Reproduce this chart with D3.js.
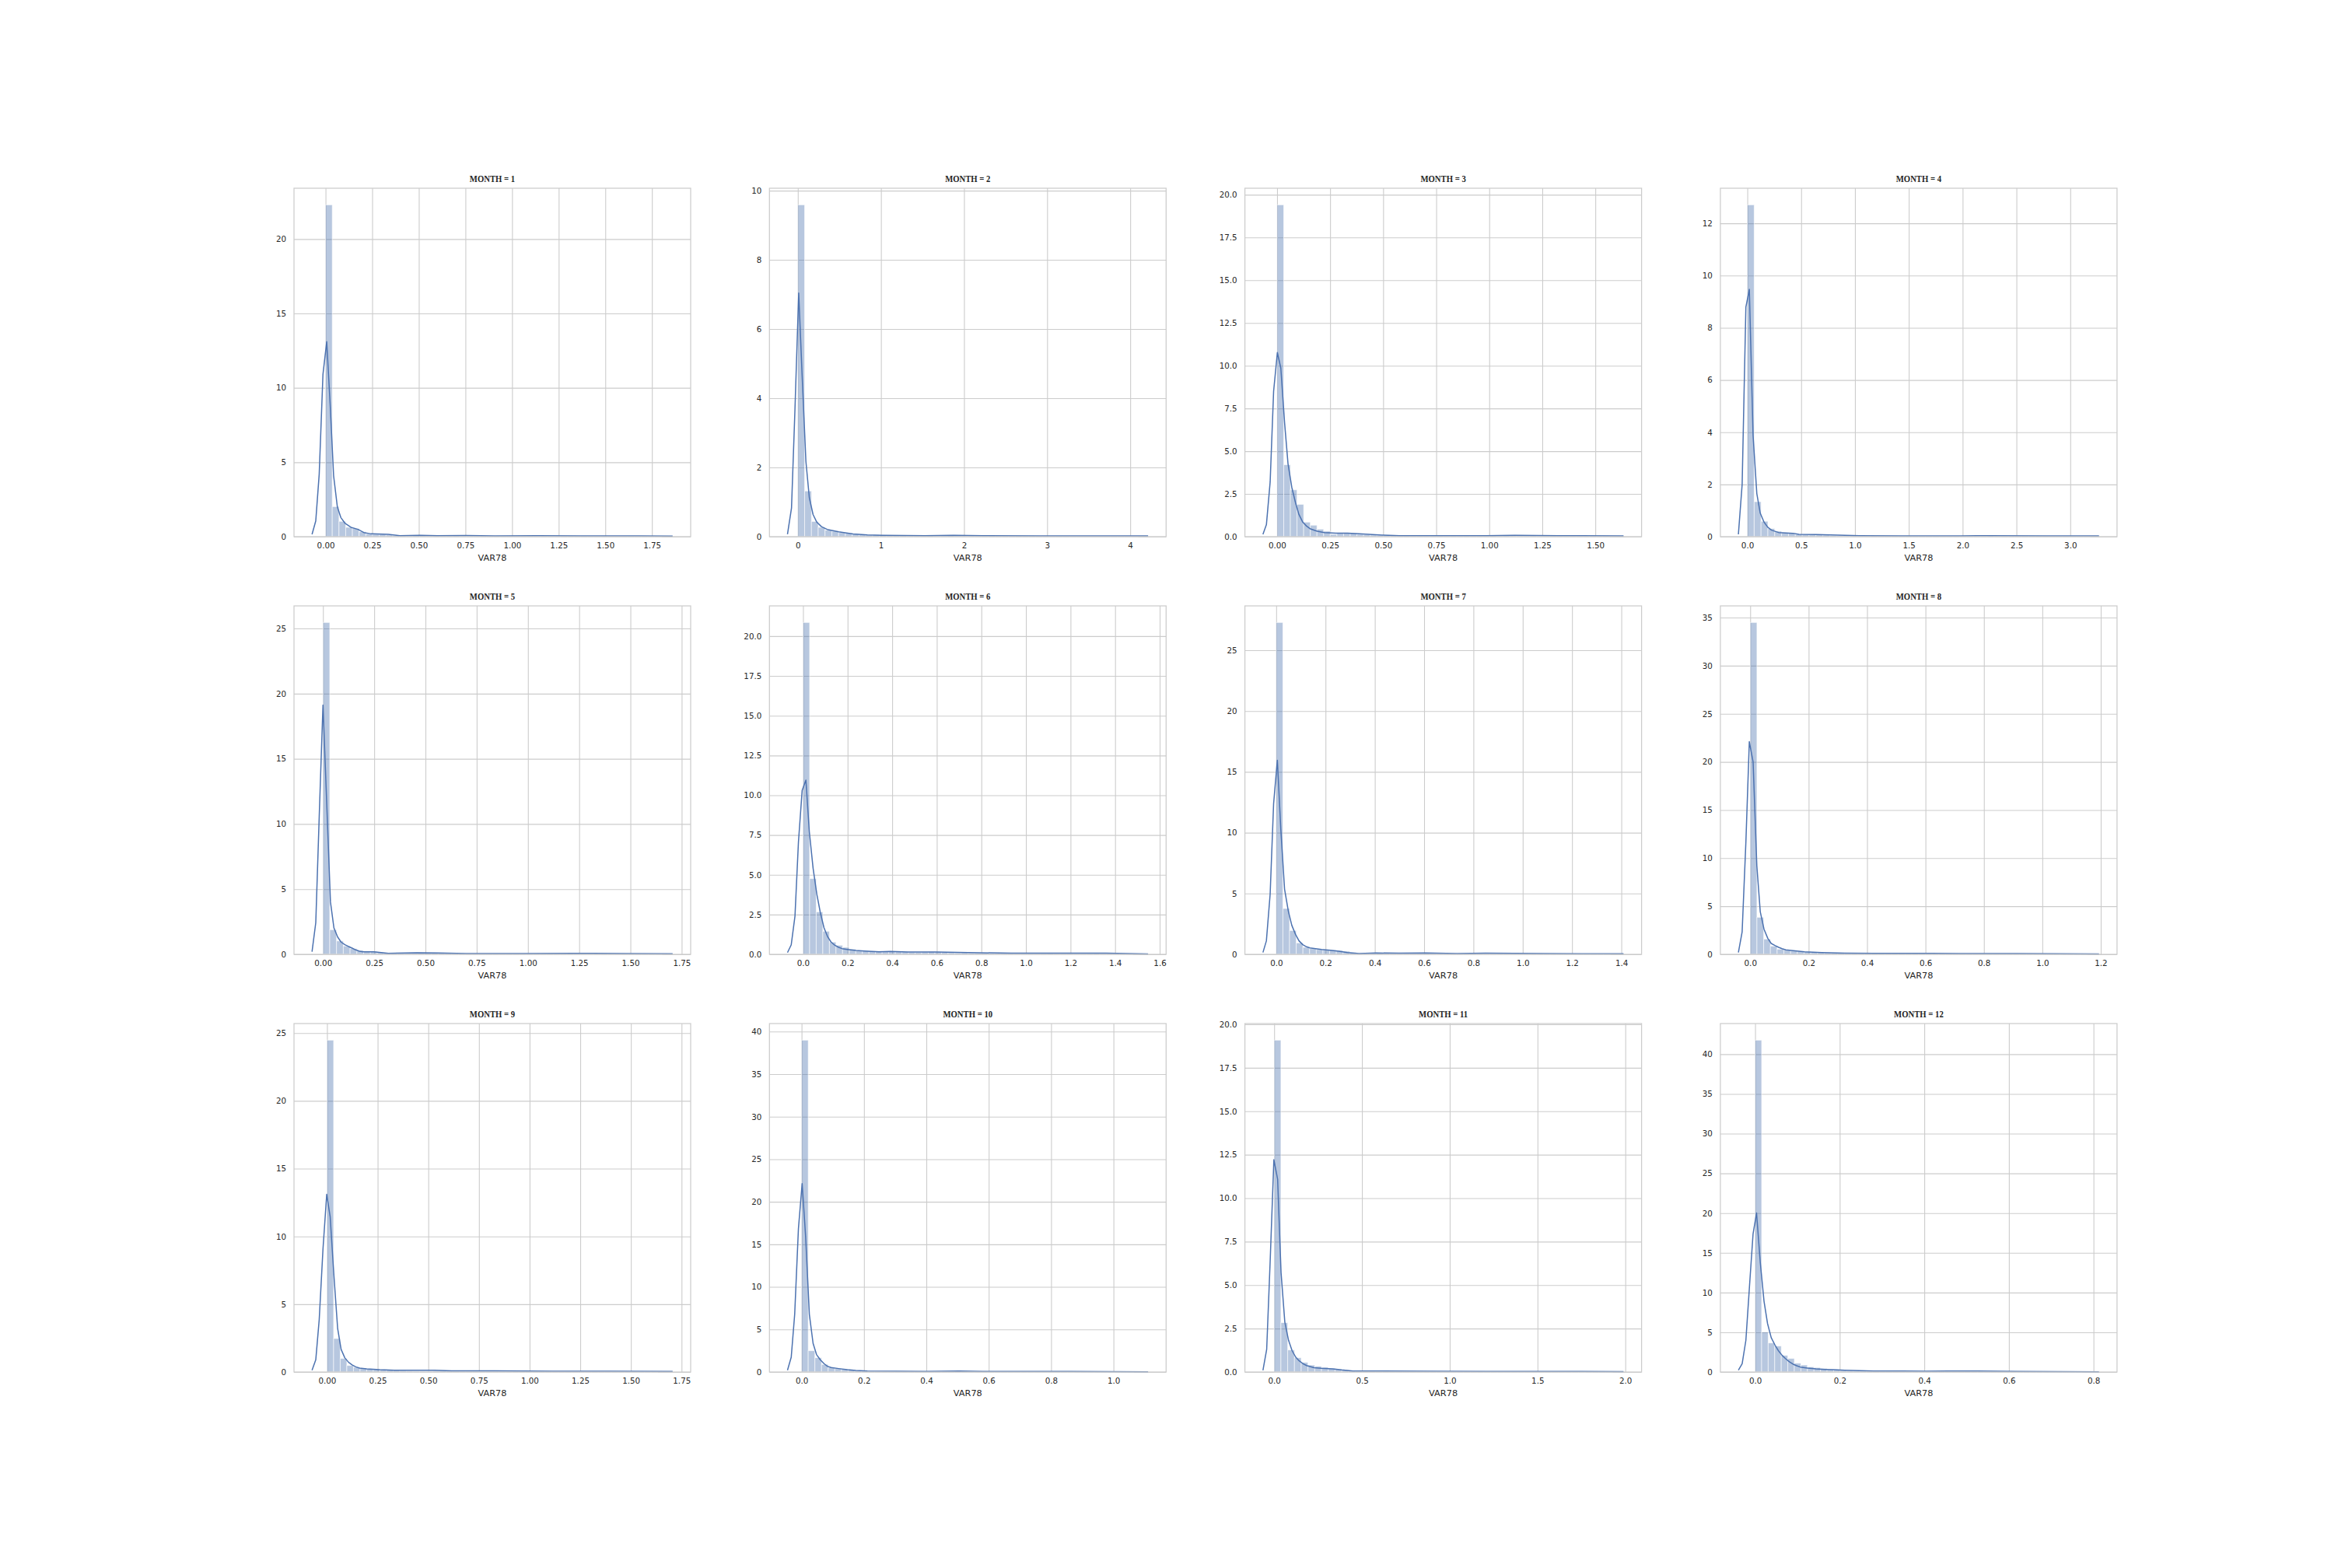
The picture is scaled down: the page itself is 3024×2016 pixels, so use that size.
<!DOCTYPE html>
<html><head><meta charset="utf-8">
<script src="https://cdn.jsdelivr.net/npm/d3@7"></script>
<style>
html,body{margin:0;padding:0;background:#fff;}
svg{display:block;}
</style></head><body>
<svg id="chart" width="3024" height="2016"></svg>
<script>
// ---------------- DATA ----------------
const months = [1,2,3,4,5,6,7,8,9,10,11,12];
const variableName = "VAR78";
const dataMin = [0,0,0,0,0,0,0,0,0,0,0,0];
const dataMax = [1.80, 4.09, 1.567, 3.184, 1.653, 1.479, 1.355, 1.153, 1.632, 1.065, 1.926, 0.773];

// density-normalised histogram heights, 50 bins between dataMin and dataMax
const histDensity = [
 [22.3,2.02,1.03,0.63,0.55,0.33,0.19,0.16,0.16,0.12,0.08,0.06,0.05,0.07,0.06,0.05,0.06,0.04,0.05,0.07,0.05,0.04,0.03,0.04,0.03,0.05,0.03,0.02,0.03,0.03,0.05,0.04,0.03,0.02,0.03,0.03,0.04,0.02,0.03,0.02,0.02,0.03,0.02,0.02,0.02,0.03,0.02,0.01,0.02,0.03],
 [9.59,1.32,0.44,0.27,0.19,0.16,0.12,0.10,0.075,0.06,0.05,0.05,0.04,0.03,0.03,0.03,0.02,0.02,0.02,0.03,0.02,0.02,0.03,0.02,0.01,0.02,0.01,0.01,0.02,0.01,0.01,0.01,0.02,0.01,0.01,0.01,0.01,0.01,0.02,0.01,0.01,0.01,0.01,0.01,0.01,0.01,0.01,0.01,0.01,0.01],
 [19.41,4.21,2.74,1.89,0.85,0.67,0.44,0.32,0.14,0.20,0.23,0.21,0.14,0.12,0.10,0.08,0.08,0.06,0.05,0.06,0.04,0.05,0.04,0.05,0.06,0.04,0.05,0.04,0.05,0.04,0.05,0.05,0.06,0.04,0.06,0.05,0.04,0.04,0.05,0.03,0.04,0.05,0.04,0.03,0.04,0.04,0.03,0.04,0.03,0.04],
 [12.71,1.34,0.59,0.31,0.21,0.15,0.13,0.09,0.08,0.07,0.07,0.06,0.04,0.03,0.03,0.03,0.02,0.02,0.03,0.02,0.02,0.02,0.02,0.03,0.02,0.02,0.02,0.02,0.02,0.02,0.02,0.02,0.02,0.03,0.02,0.04,0.02,0.02,0.02,0.02,0.02,0.02,0.02,0.02,0.02,0.02,0.02,0.02,0.02,0.02],
 [25.46,1.89,1.03,0.64,0.44,0.30,0.24,0.20,0.15,0.12,0.10,0.08,0.07,0.06,0.08,0.09,0.10,0.08,0.07,0.06,0.05,0.05,0.04,0.05,0.04,0.04,0.03,0.04,0.04,0.05,0.06,0.04,0.05,0.06,0.05,0.04,0.06,0.05,0.04,0.04,0.06,0.05,0.04,0.05,0.04,0.04,0.03,0.04,0.04,0.04],
 [20.86,4.76,2.67,1.45,0.77,0.57,0.44,0.33,0.24,0.23,0.21,0.20,0.18,0.17,0.19,0.16,0.13,0.12,0.14,0.16,0.15,0.12,0.10,0.09,0.10,0.08,0.08,0.07,0.06,0.05,0.05,0.05,0.04,0.04,0.05,0.04,0.05,0.06,0.04,0.04,0.05,0.04,0.04,0.05,0.06,0.04,0.05,0.04,0.04,0.04],
 [27.28,3.77,1.96,0.94,0.58,0.47,0.40,0.36,0.36,0.32,0.26,0.15,0.08,0.05,0.06,0.08,0.09,0.06,0.05,0.05,0.06,0.07,0.08,0.06,0.05,0.04,0.05,0.05,0.06,0.07,0.06,0.05,0.04,0.05,0.04,0.05,0.04,0.04,0.05,0.06,0.04,0.04,0.05,0.04,0.04,0.04,0.03,0.04,0.04,0.04],
 [34.49,3.85,1.59,0.86,0.54,0.46,0.38,0.32,0.27,0.22,0.19,0.16,0.14,0.12,0.10,0.10,0.09,0.10,0.12,0.10,0.09,0.10,0.11,0.10,0.12,0.10,0.09,0.08,0.07,0.08,0.07,0.08,0.06,0.07,0.08,0.07,0.06,0.07,0.06,0.06,0.07,0.06,0.05,0.06,0.05,0.06,0.05,0.05,0.05,0.05],
 [24.48,2.47,1.00,0.48,0.35,0.27,0.23,0.19,0.17,0.15,0.12,0.10,0.08,0.07,0.06,0.06,0.08,0.09,0.06,0.05,0.04,0.04,0.05,0.04,0.05,0.04,0.04,0.03,0.04,0.03,0.04,0.03,0.03,0.04,0.03,0.03,0.04,0.03,0.03,0.03,0.04,0.03,0.03,0.03,0.03,0.02,0.03,0.03,0.02,0.03],
 [38.99,2.50,1.68,0.89,0.52,0.43,0.31,0.24,0.15,0.12,0.10,0.08,0.07,0.06,0.05,0.05,0.04,0.05,0.04,0.06,0.04,0.05,0.04,0.10,0.09,0.06,0.05,0.04,0.04,0.05,0.04,0.04,0.05,0.04,0.04,0.04,0.05,0.04,0.04,0.04,0.04,0.03,0.04,0.04,0.03,0.04,0.04,0.03,0.04,0.04],
 [19.09,2.84,1.27,0.82,0.55,0.40,0.33,0.27,0.21,0.15,0.12,0.08,0.05,0.04,0.04,0.03,0.04,0.03,0.03,0.02,0.03,0.02,0.02,0.03,0.02,0.02,0.02,0.02,0.03,0.02,0.02,0.02,0.02,0.02,0.02,0.02,0.02,0.02,0.02,0.02,0.01,0.02,0.02,0.02,0.01,0.02,0.02,0.01,0.02,0.02],
 [41.77,5.04,3.66,3.27,2.09,1.70,1.11,0.88,0.65,0.56,0.46,0.29,0.26,0.20,0.16,0.12,0.12,0.10,0.09,0.08,0.10,0.08,0.07,0.05,0.06,0.07,0.08,0.10,0.12,0.10,0.08,0.10,0.12,0.09,0.08,0.07,0.08,0.06,0.05,0.06,0.05,0.06,0.05,0.04,0.05,0.04,0.05,0.04,0.04,0.04]
];

// KDE curves: [x, density]
const kdeCurves = [
 [[-0.0725,0.16],[-0.0525,1.06],[-0.034,4.2],[-0.0139,10.9],[0.0062,13.1],[0.0247,8.9],[0.0432,4.1],[0.0633,2.0],[0.0818,1.29],[0.105,0.89],[0.136,0.63],[0.174,0.49],[0.205,0.28],[0.244,0.19],[0.336,0.16],[0.398,0.07],[0.506,0.09],[0.6,0.07],[0.753,0.08],[0.907,0.05],[1.139,0.07],[1.37,0.05],[1.68,0.05],[1.861,0.04]],
 [[-0.1246,0.07],[-0.0761,0.83],[-0.0346,3.68],[0.0104,7.04],[0.0519,4.65],[0.0969,2.18],[0.138,1.13],[0.183,0.64],[0.228,0.42],[0.284,0.29],[0.353,0.21],[0.491,0.14],[0.664,0.08],[0.837,0.05],[1.01,0.04],[1.529,0.03],[1.875,0.04],[2.221,0.03],[2.913,0.02],[3.606,0.02],[4.215,0.02]],
 [[-0.0666,0.14],[-0.0503,0.7],[-0.0326,3.2],[-0.0163,8.5],[0.0014,10.77],[0.0177,9.86],[0.0353,6.68],[0.0516,4.26],[0.0693,2.89],[0.087,1.98],[0.103,1.3],[0.121,0.85],[0.139,0.62],[0.155,0.47],[0.173,0.39],[0.189,0.32],[0.223,0.24],[0.277,0.2],[0.332,0.21],[0.386,0.17],[0.495,0.09],[0.576,0.06],[0.78,0.06],[0.984,0.06],[1.12,0.08],[1.323,0.06],[1.633,0.05]],
 [[-0.0829,0.09],[-0.0481,2.0],[-0.0134,8.79],[0.0187,9.47],[0.0535,3.88],[0.0882,1.65],[0.12,0.9],[0.155,0.56],[0.19,0.36],[0.225,0.25],[0.291,0.16],[0.425,0.13],[0.479,0.09],[0.639,0.08],[0.773,0.07],[1.04,0.04],[1.441,0.03],[1.976,0.03],[2.243,0.04],[2.778,0.03],[3.267,0.03]],
 [[-0.0534,0.2],[-0.0351,2.43],[-0.0183,10.58],[0.0,19.13],[0.0183,11.57],[0.0365,4.02],[0.0534,2.03],[0.0716,1.33],[0.0885,0.94],[0.107,0.74],[0.125,0.6],[0.142,0.48],[0.16,0.34],[0.178,0.24],[0.195,0.2],[0.249,0.2],[0.319,0.08],[0.459,0.12],[0.558,0.1],[0.698,0.06],[0.979,0.06],[1.232,0.08],[1.47,0.06],[1.706,0.04]],
 [[-0.0697,0.11],[-0.0529,0.6],[-0.0361,2.4],[-0.0206,7.04],[-0.0039,10.3],[0.0129,10.95],[0.0284,7.69],[0.0452,5.41],[0.0619,3.78],[0.0774,2.64],[0.0942,1.66],[0.111,1.09],[0.126,0.77],[0.143,0.57],[0.16,0.44],[0.175,0.36],[0.199,0.31],[0.237,0.24],[0.289,0.2],[0.341,0.16],[0.392,0.18],[0.47,0.15],[0.599,0.15],[0.741,0.11],[0.934,0.07],[1.128,0.07],[1.36,0.07],[1.548,0.03]],
 [[-0.0538,0.15],[-0.0398,1.11],[-0.0246,4.94],[-0.0105,12.4],[0.0047,15.96],[0.0187,10.27],[0.0339,5.37],[0.0491,3.56],[0.0632,2.39],[0.0784,1.64],[0.0924,1.11],[0.108,0.79],[0.123,0.62],[0.137,0.53],[0.16,0.47],[0.184,0.4],[0.219,0.34],[0.254,0.26],[0.289,0.15],[0.336,0.06],[0.406,0.11],[0.499,0.09],[0.605,0.11],[0.733,0.06],[0.85,0.09],[1.084,0.06],[1.409,0.04]],
 [[-0.0404,0.19],[-0.0276,2.34],[-0.0148,11.64],[-0.003,22.1],[0.0099,20.0],[0.0227,9.22],[0.0345,4.42],[0.0473,2.61],[0.0601,1.67],[0.0719,1.13],[0.0847,0.92],[0.0975,0.73],[0.109,0.59],[0.122,0.46],[0.147,0.38],[0.186,0.27],[0.245,0.19],[0.324,0.13],[0.423,0.11],[0.521,0.11],[0.62,0.11],[0.718,0.08],[0.915,0.08],[1.194,0.05]],
 [[-0.0739,0.13],[-0.0554,0.9],[-0.0384,3.87],[-0.0199,9.05],[-0.0014,13.11],[0.0156,11.45],[0.0341,7.13],[0.0526,3.2],[0.0696,1.67],[0.0881,1.04],[0.107,0.71],[0.124,0.52],[0.142,0.38],[0.161,0.29],[0.196,0.23],[0.26,0.17],[0.331,0.13],[0.53,0.13],[0.615,0.08],[0.828,0.08],[1.112,0.06],[1.396,0.06],[1.706,0.04]],
 [[-0.0452,0.21],[-0.0332,1.74],[-0.0221,6.78],[-0.0101,16.85],[0.0018,22.14],[0.0129,15.94],[0.0249,6.78],[0.0369,3.36],[0.0479,2.05],[0.0599,1.44],[0.0719,0.98],[0.0829,0.67],[0.0949,0.52],[0.119,0.4],[0.147,0.27],[0.174,0.18],[0.211,0.12],[0.303,0.09],[0.395,0.06],[0.506,0.12],[0.58,0.06],[0.672,0.06],[0.856,0.06],[1.111,0.03]],
 [[-0.0639,0.1],[-0.0426,1.3],[-0.023,6.31],[-0.0016,12.21],[0.0197,11.09],[0.0393,5.71],[0.0607,2.87],[0.082,1.82],[0.102,1.23],[0.123,0.85],[0.144,0.63],[0.164,0.48],[0.185,0.37],[0.228,0.25],[0.269,0.21],[0.334,0.18],[0.384,0.12],[0.449,0.06],[0.548,0.06],[0.875,0.04],[1.203,0.03],[1.695,0.03],[1.99,0.02]],
 [[-0.0395,0.23],[-0.0306,1.05],[-0.0218,3.99],[-0.0136,10.53],[-0.0048,17.4],[0.0034,20.02],[0.0122,13.8],[0.0211,8.9],[0.0293,6.12],[0.0381,4.32],[0.0469,3.4],[0.0551,2.68],[0.0639,2.09],[0.0728,1.64],[0.081,1.28],[0.0898,0.98],[0.0986,0.78],[0.107,0.62],[0.124,0.49],[0.144,0.39],[0.165,0.33],[0.185,0.29],[0.212,0.23],[0.28,0.13],[0.348,0.13],[0.403,0.1],[0.457,0.13],[0.525,0.13],[0.62,0.07],[0.813,0.03]]
];

// tick labels
const xTickLabels = [
 ["0.00","0.25","0.50","0.75","1.00","1.25","1.50","1.75"],
 ["0","1","2","3","4"],
 ["0.00","0.25","0.50","0.75","1.00","1.25","1.50"],
 ["0.0","0.5","1.0","1.5","2.0","2.5","3.0"],
 ["0.00","0.25","0.50","0.75","1.00","1.25","1.50","1.75"],
 ["0.0","0.2","0.4","0.6","0.8","1.0","1.2","1.4","1.6"],
 ["0.0","0.2","0.4","0.6","0.8","1.0","1.2","1.4"],
 ["0.0","0.2","0.4","0.6","0.8","1.0","1.2"],
 ["0.00","0.25","0.50","0.75","1.00","1.25","1.50","1.75"],
 ["0.0","0.2","0.4","0.6","0.8","1.0"],
 ["0.0","0.5","1.0","1.5","2.0"],
 ["0.0","0.2","0.4","0.6","0.8"]
];
const yTickLabels = [
 ["0","5","10","15","20"],
 ["0","2","4","6","8","10"],
 ["0.0","2.5","5.0","7.5","10.0","12.5","15.0","17.5","20.0"],
 ["0","2","4","6","8","10","12"],
 ["0","5","10","15","20","25"],
 ["0.0","2.5","5.0","7.5","10.0","12.5","15.0","17.5","20.0"],
 ["0","5","10","15","20","25"],
 ["0","5","10","15","20","25","30","35"],
 ["0","5","10","15","20","25"],
 ["0","5","10","15","20","25","30","35","40"],
 ["0.0","2.5","5.0","7.5","10.0","12.5","15.0","17.5","20.0"],
 ["0","5","10","15","20","25","30","35","40"]
];

// ---------------- DRAWING ----------------
const svg = d3.select("#chart");
svg.append("rect").attr("width",3024).attr("height",2016).attr("fill","#fff");

const axW = 510, axH = 448;
const col0 = 378, colStep = 611.3, row0 = 242, rowStep = 537;
const blue = "#4c72b0", gridCol = "#cccccc", textCol = "#262626";

months.forEach((m, i) => {
  const col = i % 4, row = Math.floor(i / 4);
  const left = col0 + col * colStep, top = row0 + row * rowStep;
  const kde = kdeCurves[i];
  const hist = histDensity[i];
  const kx0 = kde[0][0], kx1 = kde[kde.length - 1][0];
  const lo = Math.min(kx0, dataMin[i]), hi = Math.max(kx1, dataMax[i]);
  const pad = (hi - lo) * 0.05;
  const x = d3.scaleLinear().domain([lo - pad, hi + pad]).range([left, left + axW]);
  const ymax = Math.max(d3.max(hist), d3.max(kde, d => d[1])) * 1.05;
  const y = d3.scaleLinear().domain([0, ymax]).range([top + axH, top]);

  const xt = xTickLabels[i], yt = yTickLabels[i];
  const g = svg.append("g");

  // grid lines
  const gx = g.append("g").attr("transform", `translate(0,${top + axH})`)
    .call(d3.axisBottom(x).tickValues(xt.map(Number)).tickSize(-axH).tickFormat(""));
  const gy = g.append("g").attr("transform", `translate(${left},0)`)
    .call(d3.axisLeft(y).tickValues(yt.map(Number)).tickSize(-axW).tickFormat(""));
  [gx, gy].forEach(a => {
    a.select(".domain").remove();
    a.selectAll("line").attr("stroke", gridCol).attr("stroke-width", 1.1);
  });

  // histogram bars
  const bw = (dataMax[i] - dataMin[i]) / hist.length;
  g.append("g").selectAll("rect").data(hist).join("rect")
    .attr("x", (d, k) => x(dataMin[i] + k * bw))
    .attr("width", (d, k) => x(dataMin[i] + (k + 1) * bw) - x(dataMin[i] + k * bw))
    .attr("y", d => y(d))
    .attr("height", d => y(0) - y(d))
    .attr("fill", blue).attr("fill-opacity", 0.4)
    .attr("stroke", "#ffffff").attr("stroke-opacity", 0.6).attr("stroke-width", 1);

  // KDE line
  g.append("path").datum(kde)
    .attr("d", d3.line().x(d => x(d[0])).y(d => y(d[1])))
    .attr("fill", "none").attr("stroke", blue).attr("stroke-width", 1.5)
    .attr("stroke-linejoin", "round");

  // frame
  g.append("rect").attr("x", left).attr("y", top).attr("width", axW).attr("height", axH)
    .attr("fill", "none").attr("stroke", gridCol).attr("stroke-width", 1.25);

  // tick labels via axes
  const ax = g.append("g").attr("transform", `translate(0,${top + axH})`)
    .call(d3.axisBottom(x).tickValues(xt.map(Number)).tickSize(0).tickPadding(7.5)
      .tickFormat((d, k) => xt[k]));
  const ay = g.append("g").attr("transform", `translate(${left},0)`)
    .call(d3.axisLeft(y).tickValues(yt.map(Number)).tickSize(0).tickPadding(10)
      .tickFormat((d, k) => yt[k]));
  [ax, ay].forEach(a => {
    a.select(".domain").remove();
    a.selectAll("text").attr("fill", textCol)
      .style("font-family", "'DejaVu Sans', sans-serif").style("font-size", "10.3px");
  });

  // x label
  g.append("text").attr("x", left + axW / 2).attr("y", top + axH + 28)
    .attr("text-anchor", "middle").attr("dominant-baseline", "middle")
    .attr("fill", textCol)
    .style("font-family", "'DejaVu Sans', sans-serif").style("font-size", "11.3px")
    .text(variableName);

  // title
  g.append("g").attr("transform", `translate(${left + axW / 2},${top - 10.5}) scale(0.93,1)`)
    .append("text").attr("text-anchor", "middle").attr("dominant-baseline", "middle")
    .attr("fill", textCol)
    .style("font-family", "'Liberation Serif', 'Times New Roman', serif")
    .style("font-weight", "bold").style("font-size", "11.5px")
    .text(`MONTH = ${m}`);
});
</script>
</body></html>
